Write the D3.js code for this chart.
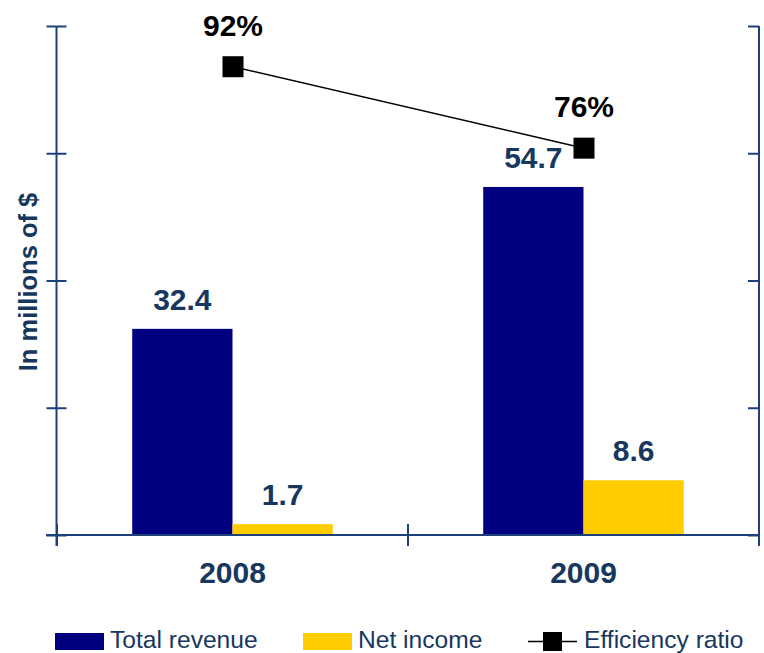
<!DOCTYPE html>
<html>
<head>
<meta charset="utf-8">
<script src="https://cdn.jsdelivr.net/npm/d3@7"></script>
<style>
  html, body { margin: 0; padding: 0; background: #fff; }
  svg { display: block; font-family: "Liberation Sans", Arial, sans-serif; }
</style>
</head>
<body>
<svg id="chart" width="764" height="653"></svg>
<script>
const years = ["2008", "2009"];
const seriesNames = ["Total revenue", "Net income"];
const totalRevenue = [32.4, 54.7];
const netIncome = [1.7, 8.6];
const efficiencyRatio = [92, 76];
const leftTicks = [0, 20, 40, 60, 80];
const rightTicks = [0, 25, 50, 75, 100];
const yTitle = "In millions of $";
const lineName = "Efficiency ratio";

const colors = { "Total revenue": "#000080", "Net income": "#FFCC00" };
const axisColor = "#1b4178";
const textColor = "#17375e";

const svg = d3.select("#chart");

const x = d3.scaleBand().domain(years).range([57, 759]).padding(0);
const xInner = d3.scaleBand().domain(seriesNames).range([0, x.bandwidth()])
  .paddingInner(0).paddingOuter(0.75);
const y = d3.scaleLinear().domain([0, 80]).range([535, 26]);
const yR = d3.scaleLinear().domain([0, 100]).range([535, 26]);

// Bars
const rows = years.map((yr, i) => ({ year: yr, vals: [
  { name: "Total revenue", v: totalRevenue[i] },
  { name: "Net income", v: netIncome[i] }
]}));

const g = svg.append("g");
rows.forEach(r => {
  r.vals.forEach(d => {
    g.append("rect")
      .attr("x", x(r.year) + xInner(d.name))
      .attr("width", xInner.bandwidth())
      .attr("y", y(d.v))
      .attr("height", y(0) - y(d.v))
      .attr("fill", colors[d.name]);
    g.append("text")
      .attr("x", x(r.year) + xInner(d.name) + xInner.bandwidth() / 2)
      .attr("y", y(d.v) - 19)
      .attr("text-anchor", "middle")
      .attr("font-size", 30)
      .attr("font-weight", "bold")
      .attr("fill", textColor)
      .text(d.v.toFixed(1));
  });
});

// Left axis
const leftAxis = d3.axisLeft(y).tickValues(leftTicks).tickSize(10).tickFormat("");
const la = svg.append("g").attr("transform", "translate(56.5,0)").call(leftAxis);
la.select(".domain").remove();
la.selectAll(".tick line").attr("x1", 10).attr("x2", -10)
  .attr("stroke", axisColor).attr("stroke-width", 2);
la.append("line").attr("x1", 0).attr("x2", 0).attr("y1", y(80)).attr("y2", y(0) + 11)
  .attr("stroke", axisColor).attr("stroke-width", 2);

// Right axis
const rightAxis = d3.axisLeft(yR).tickValues(rightTicks).tickSize(11).tickFormat("");
const ra = svg.append("g").attr("transform", "translate(759,0)").call(rightAxis);
ra.select(".domain").remove();
ra.selectAll(".tick line").attr("stroke", axisColor).attr("stroke-width", 2);
ra.append("line").attr("x1", 0).attr("x2", 0).attr("y1", yR(100)).attr("y2", yR(0) + 11)
  .attr("stroke", axisColor).attr("stroke-width", 2);

// Bottom axis
const bottomAxis = d3.axisBottom(x).tickSize(0).tickPadding(0);
const ba = svg.append("g").attr("transform", `translate(0,${y(0)})`).call(bottomAxis);
ba.select(".domain").remove();
ba.selectAll(".tick text")
  .attr("dy", 0).attr("y", 48)
  .attr("font-size", 30).attr("font-weight", "bold")
  .attr("font-family", "Liberation Sans, Arial, sans-serif")
  .attr("fill", textColor);
ba.append("line").attr("x1", 46).attr("x2", 759).attr("y1", 0).attr("y2", 0)
  .attr("stroke", axisColor).attr("stroke-width", 2);
const bounds = years.map(yr => x(yr)).concat([x(years[years.length - 1]) + x.bandwidth()]);
ba.selectAll("line.sep").data(bounds).enter().append("line").attr("class", "sep")
  .attr("x1", d => d).attr("x2", d => d).attr("y1", -11).attr("y2", 11)
  .attr("stroke", axisColor).attr("stroke-width", 2);

// Line series
const pts = years.map((yr, i) => ({ x: x(yr) + x.bandwidth() / 2 + 0.5, y: yR(efficiencyRatio[i]), v: efficiencyRatio[i] }));
svg.append("path")
  .attr("d", d3.line().x(d => d.x).y(d => d.y)(pts))
  .attr("fill", "none").attr("stroke", "#000").attr("stroke-width", 1.5);
svg.selectAll("rect.mk").data(pts).enter().append("rect").attr("class", "mk")
  .attr("x", d => d.x - 10.5).attr("y", d => d.y - 10.5)
  .attr("width", 21).attr("height", 21).attr("fill", "#000");
svg.selectAll("text.pl").data(pts).enter().append("text").attr("class", "pl")
  .attr("x", d => d.x).attr("y", d => d.y - 31)
  .attr("text-anchor", "middle").attr("font-size", 30).attr("font-weight", "bold")
  .attr("fill", "#000").text(d => d.v + "%");

// Y title
svg.append("text")
  .attr("transform", "translate(37,282) rotate(-90)")
  .attr("text-anchor", "middle")
  .attr("font-size", 25.5).attr("font-weight", "bold").attr("fill", textColor)
  .text(yTitle);

// Legend
const lg = svg.append("g");
const legendItems = [
  { name: seriesNames[0], type: "bar", sx: 55, tx: 110 },
  { name: seriesNames[1], type: "bar", sx: 303, tx: 358 },
  { name: lineName, type: "line", sx: 528, tx: 584 }
];
legendItems.forEach(it => {
  if (it.type === "bar") {
    lg.append("rect").attr("x", it.sx).attr("y", 633).attr("width", 49).attr("height", 17)
      .attr("fill", colors[it.name]);
  } else {
    lg.append("line").attr("x1", it.sx).attr("x2", it.sx + 49).attr("y1", 641.5).attr("y2", 641.5)
      .attr("stroke", "#000").attr("stroke-width", 1.5);
    lg.append("rect").attr("x", it.sx + 15).attr("y", 632).attr("width", 19).attr("height", 19)
      .attr("fill", "#000");
  }
  lg.append("text").attr("x", it.tx).attr("y", 648)
    .attr("font-size", 24.6).attr("fill", textColor).text(it.name);
});
</script>
</body>
</html>
